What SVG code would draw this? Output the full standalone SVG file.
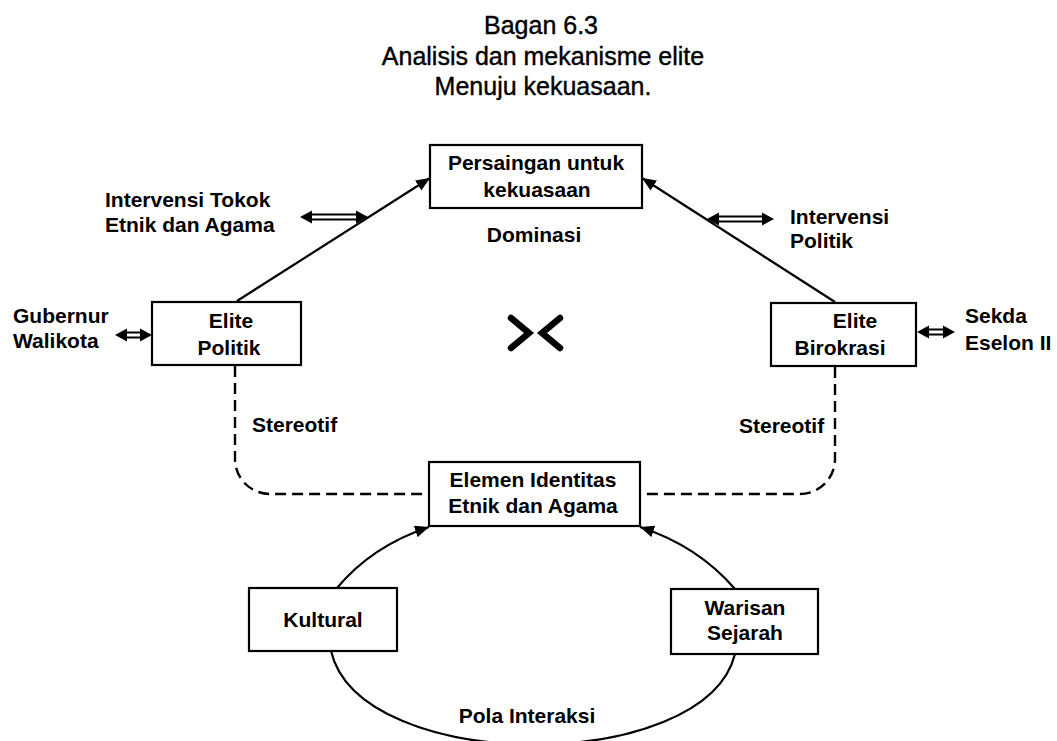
<svg xmlns="http://www.w3.org/2000/svg" width="1057" height="741" viewBox="0 0 1057 741">
<defs>
<style>
.box{fill:#fff;stroke:#000;stroke-width:2.2}
.t{font-family:"Liberation Sans",Arial,sans-serif;font-size:21px;font-weight:bold;fill:#000}
.title{font-family:"Liberation Sans",Arial,sans-serif;font-size:25px;fill:#000;stroke:#000;stroke-width:0.4;text-anchor:middle}
.c{text-anchor:middle}
.ln{fill:none;stroke:#000;stroke-width:2.2}
.dash{fill:none;stroke:#000;stroke-width:2.4;stroke-dasharray:11 6}
.dl{stroke:#000;stroke-width:2}
.chev{fill:none;stroke:#000;stroke-width:6.5;stroke-linejoin:miter;stroke-linecap:round}
</style>
<marker id="ah" markerUnits="userSpaceOnUse" markerWidth="16" markerHeight="12" refX="14" refY="6" orient="auto">
<path d="M0,0 L14,6 L0,12 Z" fill="#000"/>
</marker>
</defs>
<rect width="1057" height="741" fill="#fff"/>

<g id="title">
<text class="title" x="541" y="34">Bagan 6.3</text>
<text class="title" x="543" y="65">Analisis dan mekanisme elite</text>
<text class="title" x="543" y="95">Menuju kekuasaan.</text>
</g>

<g id="connectors">
<path class="ln" d="M237,301 L430,178" marker-end="url(#ah)"/>
<path class="ln" d="M835,302 L642,178" marker-end="url(#ah)"/>
<path class="dash" d="M235,366 V459 A35,35 0 0 0 270,494 H429"/>
<path class="dash" d="M835,367 V459 A35,35 0 0 1 800,494 H640"/>
<path class="ln" d="M337,588 Q372,546 429,527" marker-end="url(#ah)"/>
<path class="ln" d="M735,589 Q698,546 640,527" marker-end="url(#ah)"/>
<path class="ln" d="M331,651 C360,775 705,775 735,654"/>
<g id="dbl1">
<path d="M300,217 l12,-6.5 v13 Z M368,217 l-12,-6.5 v13 Z"/>
<line class="dl" x1="310" y1="214.5" x2="358" y2="214.5"/>
<line class="dl" x1="310" y1="219.5" x2="358" y2="219.5"/>
</g>
<g id="dbl2">
<path d="M707,219 l12,-6.5 v13 Z M774,219 l-12,-6.5 v13 Z"/>
<line class="dl" x1="717" y1="216.5" x2="764" y2="216.5"/>
<line class="dl" x1="717" y1="221.5" x2="764" y2="221.5"/>
</g>
<g id="dbl3">
<path d="M115,335 l12,-6.5 v13 Z M152,335 l-12,-6.5 v13 Z"/>
<line class="dl" x1="125" y1="332.5" x2="142" y2="332.5"/>
<line class="dl" x1="125" y1="337.5" x2="142" y2="337.5"/>
</g>
<g id="dbl4">
<path d="M917,332 l12,-6.5 v13 Z M955,332 l-12,-6.5 v13 Z"/>
<line class="dl" x1="927" y1="329.5" x2="945" y2="329.5"/>
<line class="dl" x1="927" y1="334.5" x2="945" y2="334.5"/>
</g>
</g>

<g id="persaingan">
<rect class="box" x="430" y="145" width="212" height="63"/>
<text class="t c" x="536" y="170">Persaingan untuk</text>
<text class="t c" x="537" y="197">kekuasaan</text>
</g>
<g id="dominasi"><text class="t c" x="534" y="242">Dominasi</text></g>
<g id="intervensi-tokoh">
<text class="t" x="105" y="207">Intervensi Tokok</text>
<text class="t" x="105" y="232">Etnik dan Agama</text>
</g>
<g id="intervensi-politik">
<text class="t" x="790" y="224">Intervensi</text>
<text class="t" x="790" y="248">Politik</text>
</g>
<g id="elite-politik">
<rect class="box" x="152" y="302" width="149" height="63"/>
<text class="t c" x="231" y="328">Elite</text>
<text class="t c" x="229" y="355">Politik</text>
</g>
<g id="gubernur">
<text class="t" x="13" y="323">Gubernur</text>
<text class="t" x="13" y="348">Walikota</text>
</g>
<g id="elite-birokrasi">
<rect class="box" x="771" y="303" width="145" height="63"/>
<text class="t c" x="855" y="328">Elite</text>
<text class="t c" x="840" y="355">Birokrasi</text>
</g>
<g id="sekda">
<text class="t" x="965" y="323">Sekda</text>
<text class="t" x="965" y="350">Eselon II</text>
</g>
<g id="chevrons">
<polyline class="chev" points="511,318 529,333 511,348"/>
<polyline class="chev" points="560,318 542,333 560,348"/>
</g>
<g id="stereotif-kiri"><text class="t" x="252" y="432">Stereotif</text></g>
<g id="stereotif-kanan"><text class="t" x="739" y="433">Stereotif</text></g>
<g id="elemen">
<rect class="box" x="429" y="462" width="211" height="64"/>
<text class="t c" x="533" y="487">Elemen Identitas</text>
<text class="t c" x="533" y="513">Etnik dan Agama</text>
</g>
<g id="kultural">
<rect class="box" x="249" y="588" width="148" height="63"/>
<text class="t c" x="323" y="627">Kultural</text>
</g>
<g id="warisan">
<rect class="box" x="671" y="589" width="147" height="65"/>
<text class="t c" x="745" y="615">Warisan</text>
<text class="t c" x="745" y="640">Sejarah</text>
</g>
<g id="pola"><text class="t c" x="527" y="723">Pola Interaksi</text></g>
</svg>
